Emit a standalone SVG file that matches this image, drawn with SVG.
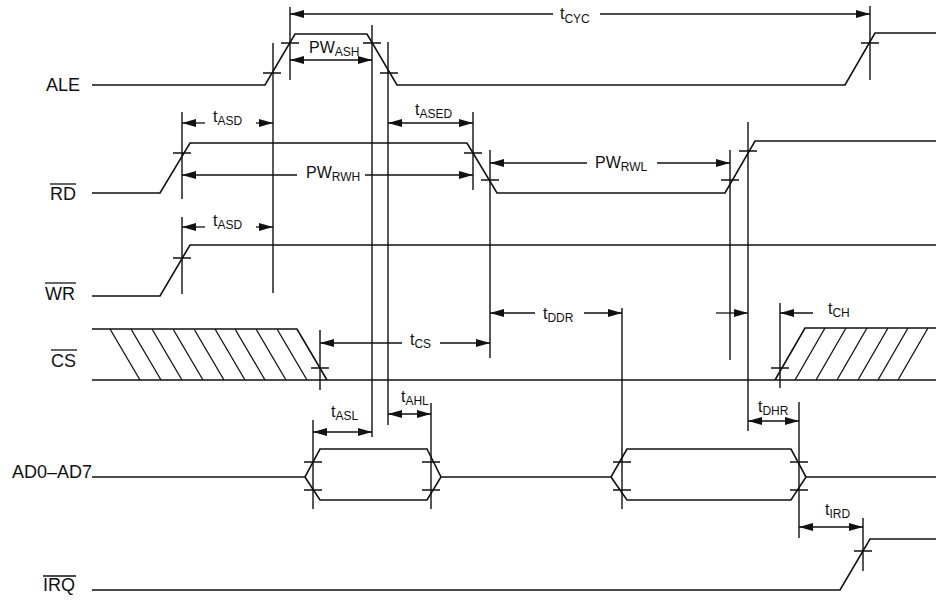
<svg xmlns="http://www.w3.org/2000/svg" width="936" height="602" viewBox="0 0 936 602">
<style>
.sig{fill:none;stroke:#111;stroke-width:1.6;stroke-linejoin:miter}
.ref{fill:none;stroke:#111;stroke-width:1.4}
.tk{fill:none;stroke:#111;stroke-width:1.4}
.hat{fill:none;stroke:#111;stroke-width:1.3}
.dim{stroke:#111;stroke-width:1.3;fill:none}
.ae{marker-end:url(#ah)}
.ab{marker-start:url(#ah);marker-end:url(#ah)}
text{font-family:"Liberation Sans",Arial,Helvetica,sans-serif;fill:#111}
.lbl{font-size:18px}
.tm{font-size:16px}
.sub{font-size:12px}
.ov{stroke:#111;stroke-width:1.3}
</style>
<defs>
<marker id="ah" viewBox="0 0 14 8" refX="14" refY="4" markerWidth="14" markerHeight="8" markerUnits="userSpaceOnUse" orient="auto-start-reverse">
<path d="M0,0 L14,4 L0,8 z" fill="#111"/>
</marker>
</defs>
<rect width="936" height="602" fill="#fff"/>

<g id="signal-labels">
<text class="lbl" x="46" y="91">ALE</text>
<text class="lbl" x="50" y="200">RD</text>
<line class="ov" x1="50" y1="184" x2="76" y2="184"/>
<text class="lbl" x="45" y="300">WR</text>
<line class="ov" x1="45" y1="283" x2="76" y2="283"/>
<text class="lbl" x="51" y="367">CS</text>
<line class="ov" x1="51" y1="350" x2="77" y2="350"/>
<text class="lbl" x="12" y="478">AD0–AD7</text>
<text class="lbl" x="43" y="591">IRQ</text>
<line class="ov" x1="43" y1="576" x2="76" y2="576"/>
</g>

<g id="waveforms">
<polyline id="ALE" class="sig" points="92,85 265,85 295,34 367,34 397,85 845,85 875,33 936,33"/>
<polyline id="RD" class="sig" points="92,193 160,193 190,143 467,143 497,193 725,193 755,141 936,141"/>
<polyline id="WR" class="sig" points="92,296 160,296 190,245 936,245"/>
<g id="CS">
<path class="sig" d="M92,329 H297 L327,380 M92,380 H936 M775,380 L805,328 H936"/>
<path class="hat" d="M110,329 L140,380 M131,329 L161,380 M152,329 L182,380 M173,329 L203,380 M194,329 L224,380 M215,329 L245,380 M235,329 L265,380 M256,329 L286,380 M277,329 L307,380"/>
<path class="hat" d="M795,380 L825,328 M816,380 L846,328 M837,380 L867,328 M858,380 L888,328 M878,380 L908,328 M898,380 L928,328"/>
</g>
<path id="AD" class="sig" d="M92,477 H305 L320,449 H427 L441,477 L427,500 H320 L305,477 M441,477 H611 L627,449 H791 L806,477 L791,500 H627 L611,477 M806,477 H936"/>
<polyline id="IRQ" class="sig" points="92,590 840,590 870,539 936,539"/>
</g>

<g id="reference-lines">
<path class="ref" d="M273,43V293 M290,7V80 M372,25V437 M388,42V425 M870,6V80 M182,112V199 M182,217V294 M473,112V190 M490,150V358 M730,150V360 M748,122V431 M320,330V390 M622,308V509 M780,303V388 M313,420V509 M431,403V509 M799,402V538 M863,518V571"/>
<path class="tk" d="M263,73h18 M281,43h18 M363,43h18 M380,73h18 M861,43h18 M173,153h18 M464,153h18 M481,180h18 M721,180h18 M739,151h18 M173,258h18 M311,368h18 M771,368h18 M304,462h18 M304,490h18 M422,462h18 M422,490h18 M613,462h18 M613,490h18 M790,462h18 M790,490h18 M854,551h18"/>
</g>

<g id="connectors">
<line class="dim ae" x1="553" y1="14" x2="290" y2="14"/>
<line class="dim ae" x1="600" y1="14" x2="870" y2="14"/>
<line class="dim ab" x1="290" y1="60" x2="372" y2="60"/>
<line class="dim ae" x1="205" y1="123" x2="182" y2="123"/>
<line class="dim ae" x1="256" y1="123" x2="273" y2="123"/>
<line class="dim ab" x1="388" y1="123" x2="473" y2="123"/>
<line class="dim ae" x1="297" y1="175" x2="182" y2="175"/>
<line class="dim ae" x1="365" y1="175" x2="473" y2="175"/>
<line class="dim ae" x1="587" y1="163" x2="490" y2="163"/>
<line class="dim ae" x1="657" y1="163" x2="730" y2="163"/>
<line class="dim ae" x1="205" y1="227" x2="182" y2="227"/>
<line class="dim ae" x1="256" y1="227" x2="273" y2="227"/>
<line class="dim ae" x1="402" y1="343" x2="320" y2="343"/>
<line class="dim ae" x1="440" y1="343" x2="490" y2="343"/>
<line class="dim ae" x1="535" y1="313" x2="490" y2="313"/>
<line class="dim ae" x1="584" y1="313" x2="622" y2="313"/>
<line class="dim ae" x1="716" y1="313" x2="748" y2="313"/>
<line class="dim ae" x1="813" y1="313" x2="780" y2="313"/>
<line class="dim ab" x1="313" y1="432" x2="372" y2="432"/>
<line class="dim ab" x1="388" y1="414" x2="431" y2="414"/>
<line class="dim ab" x1="748" y1="421" x2="799" y2="421"/>
<line class="dim ab" x1="799" y1="527" x2="863" y2="527"/>
</g>

<g id="timing-labels">
<text class="tm" x="560" y="19">t<tspan class="sub" dy="4">CYC</tspan></text>
<text class="tm" x="309" y="53">PW<tspan class="sub" dy="3">ASH</tspan></text>
<text class="tm" x="213" y="122">t<tspan class="sub" dy="3">ASD</tspan></text>
<text class="tm" x="415" y="115">t<tspan class="sub" dy="3">ASED</tspan></text>
<text class="tm" x="306" y="178">PW<tspan class="sub" dy="3">RWH</tspan></text>
<text class="tm" x="595" y="168">PW<tspan class="sub" dy="3">RWL</tspan></text>
<text class="tm" x="213" y="226">t<tspan class="sub" dy="3">ASD</tspan></text>
<text class="tm" x="410" y="345">t<tspan class="sub" dy="3">CS</tspan></text>
<text class="tm" x="543" y="319">t<tspan class="sub" dy="3">DDR</tspan></text>
<text class="tm" x="828" y="314">t<tspan class="sub" dy="3">CH</tspan></text>
<text class="tm" x="331" y="417">t<tspan class="sub" dy="3">ASL</tspan></text>
<text class="tm" x="401" y="402">t<tspan class="sub" dy="3">AHL</tspan></text>
<text class="tm" x="758" y="412">t<tspan class="sub" dy="3">DHR</tspan></text>
<text class="tm" x="825" y="515">t<tspan class="sub" dy="3">IRD</tspan></text>
</g>
</svg>
